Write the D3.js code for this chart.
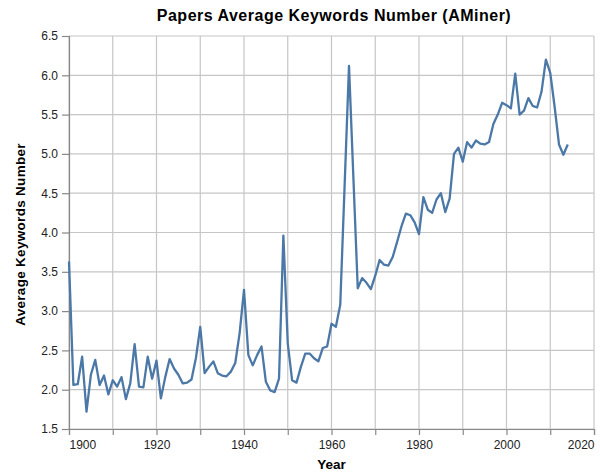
<!DOCTYPE html>
<html>
<head>
<meta charset="utf-8">
<script src="https://cdn.jsdelivr.net/npm/d3@7"></script>
<style>
  html, body { margin: 0; padding: 0; background: #fff; }
  svg text { font-family: "Liberation Sans", Arial, Helvetica, sans-serif; }
</style>
</head>
<body>
<svg id="chart" width="600" height="476"></svg>
<script>
const years = [
  1900,1901,1902,1903,1904,1905,1906,1907,1908,1909,
  1910,1911,1912,1913,1914,1915,1916,1917,1918,1919,
  1920,1921,1922,1923,1924,1925,1926,1927,1928,1929,
  1930,1931,1932,1933,1934,1935,1936,1937,1938,1939,
  1940,1941,1942,1943,1944,1945,1946,1947,1948,1949,
  1950,1951,1952,1953,1954,1955,1956,1957,1958,1959,
  1960,1961,1962,1963,1964,1965,1966,1967,1968,1969,
  1970,1971,1972,1973,1974,1975,1976,1977,1978,1979,
  1980,1981,1982,1983,1984,1985,1986,1987,1988,1989,
  1990,1991,1992,1993,1994,1995,1996,1997,1998,1999,
  2000,2001,2002,2003,2004,2005,2006,2007,2008,2009,
  2010,2011,2012,2013,2014
];
const avgKeywords = [
  3.63,2.06,2.07,2.42,1.72,2.19,2.38,2.06,2.18,1.94,
  2.12,2.04,2.16,1.88,2.08,2.58,2.04,2.03,2.42,2.14,
  2.37,1.89,2.16,2.39,2.27,2.19,2.08,2.09,2.13,2.40,
  2.80,2.21,2.29,2.36,2.21,2.18,2.17,2.23,2.34,2.72,
  3.27,2.44,2.31,2.44,2.55,2.10,1.99,1.97,2.14,3.96,
  2.59,2.12,2.09,2.29,2.46,2.46,2.40,2.36,2.53,2.55,
  2.84,2.80,3.08,4.60,6.12,4.70,3.29,3.42,3.36,3.28,
  3.45,3.65,3.59,3.58,3.69,3.88,4.08,4.24,4.22,4.13,
  3.98,4.45,4.29,4.25,4.42,4.50,4.26,4.43,5.00,5.08,
  4.90,5.15,5.08,5.17,5.13,5.12,5.15,5.38,5.50,5.65,
  5.62,5.58,6.02,5.50,5.55,5.71,5.61,5.59,5.79,6.20,
  6.03,5.60,5.12,4.99,5.12
];
const xDomain = [1900, 2020];
const yDomain = [1.5, 6.5];
const xTicks = [1900,1910,1920,1930,1940,1950,1960,1970,1980,1990,2000,2010,2020];
const xLabelTicks = [1900,1920,1940,1960,1980,2000,2020];
const yTicks = [1.5,2.0,2.5,3.0,3.5,4.0,4.5,5.0,5.5,6.0,6.5];
const titleText = "Papers Average Keywords Number (AMiner)";
const xTitle = "Year";
const yTitle = "Average Keywords Number";

const data = years.map((y, i) => ({year: y, value: avgKeywords[i]}));

const svg = d3.select("#chart");
const margin = {left: 69, right: 6, top: 36, bottom: 47};
const W = 600, H = 476;
const x = d3.scaleLinear().domain(xDomain).range([margin.left, W - margin.right]);
const y = d3.scaleLinear().domain(yDomain).range([H - margin.bottom, margin.top]);

const gridColor = "#c6c6c6";
const axisColor = "#888";

// grid
const grid = svg.append("g");
grid.selectAll("line.vx").data(xTicks).join("line")
  .attr("x1", d => x(d)).attr("x2", d => x(d))
  .attr("y1", y.range()[0]).attr("y2", y.range()[1])
  .attr("stroke", gridColor).attr("stroke-width", 1.2);
grid.selectAll("line.hy").data(yTicks).join("line")
  .attr("y1", d => y(d)).attr("y2", d => y(d))
  .attr("x1", x.range()[0]).attr("x2", x.range()[1])
  .attr("stroke", gridColor).attr("stroke-width", 1.2);

// x axis
const xAxis = svg.append("g")
  .attr("transform", `translate(0,${y.range()[0]})`)
  .call(d3.axisBottom(x).tickValues(xTicks).tickSize(6).tickPadding(5)
    .tickFormat(d => xLabelTicks.includes(d) ? d3.format("d")(d) : ""));
xAxis.select(".domain").attr("stroke", axisColor).attr("stroke-width", 1.2);
xAxis.selectAll(".tick line").attr("stroke", axisColor).attr("stroke-width", 1.2);
xAxis.selectAll(".tick text").attr("font-size", 12).attr("fill", "#222")
  .attr("text-anchor", d => d === xDomain[0] ? "start" : (d === xDomain[1] ? "end" : "middle"));

// y axis
const yAxis = svg.append("g")
  .attr("transform", `translate(${x.range()[0]},0)`)
  .call(d3.axisLeft(y).tickValues(yTicks).tickSize(7).tickPadding(4)
    .tickFormat(d3.format(".1f")));
yAxis.select(".domain").attr("stroke", axisColor).attr("stroke-width", 1.2);
yAxis.selectAll(".tick line").attr("stroke", axisColor).attr("stroke-width", 1.2);
yAxis.selectAll(".tick text").attr("font-size", 12).attr("fill", "#222");

// line
const line = d3.line().x(d => x(d.year)).y(d => y(d.value));
svg.append("path").datum(data)
  .attr("d", line)
  .attr("fill", "none")
  .attr("stroke", "#4c78a8")
  .attr("stroke-width", 2.3)
  .attr("stroke-linejoin", "round");

// titles
svg.append("text")
  .attr("x", 334)
  .attr("y", 21)
  .attr("text-anchor", "middle")
  .attr("font-size", 16)
  .attr("letter-spacing", 0.5)
  .attr("font-weight", "bold")
  .attr("fill", "#000")
  .text(titleText);

svg.append("text")
  .attr("x", (x.range()[0] + x.range()[1]) / 2)
  .attr("y", 469)
  .attr("text-anchor", "middle")
  .attr("font-size", 13.5)
  .attr("font-weight", "bold")
  .attr("fill", "#000")
  .text(xTitle);

svg.append("text")
  .attr("transform", `translate(25,${(y.range()[0] + y.range()[1]) / 2 + 2}) rotate(-90)`)
  .attr("text-anchor", "middle")
  .attr("font-size", 13.5)
  .attr("letter-spacing", 0.3)
  .attr("font-weight", "bold")
  .attr("fill", "#000")
  .text(yTitle);
</script>
</body>
</html>
